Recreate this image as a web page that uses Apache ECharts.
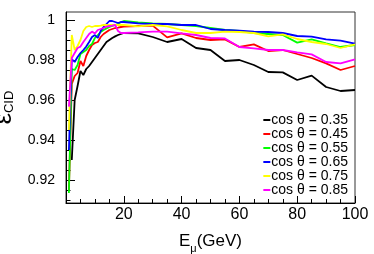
<!DOCTYPE html>
<html><head><meta charset="utf-8">
<script src="https://cdn.jsdelivr.net/npm/echarts@6/dist/echarts.min.js"></script>
<style>html,body{margin:0;padding:0;background:#fff}#c{width:374px;height:254px}</style>
</head><body><div id="c"></div>
<script>
// Muon energy (GeV)
const energies = [1,2,3,4,5,6,7,8,9,10,11,12,13,14,15,16,17,18,19,20,
  25,30,35,40,45,50,55,60,65,70,75,80,85,90,95,100];
const eff035 = [null,0.930,0.960,0.967,0.9745,0.9725,0.9755,0.977,0.979,0.981,0.983,0.985,0.987,0.989,0.990,0.991,0.9918,0.9925,0.993,0.9935,
  0.9933,0.9915,0.989,0.9905,0.9860,0.985,0.9795,0.980,0.9775,0.974,0.9738,0.970,0.9722,0.9665,0.9645,0.965];
const eff045 = [0.915,0.968,0.972,0.9735,0.9795,0.977,0.982,0.985,0.9875,0.9885,0.989,0.9915,0.993,0.994,0.995,0.9955,0.996,0.9962,0.9965,0.9967,
  0.997,0.9972,0.9913,0.9933,0.991,0.990,0.9903,0.9865,0.9878,0.9845,0.985,0.9830,0.981,0.9783,0.975,0.9770];
const eff055 = [0.9135,0.9755,0.975,0.9775,0.983,0.984,0.985,0.987,0.988,0.991,0.9925,0.994,0.995,0.9958,0.9965,0.997,0.9975,0.998,0.999,0.9995,
  0.9988,0.9983,0.998,0.9975,0.997,0.996,0.995,0.9945,0.9935,0.993,0.9925,0.9887,0.9903,0.9883,0.9865,0.9875];
const eff065 = [0.935,0.9805,0.979,0.9815,0.9835,0.985,0.9867,0.989,0.9915,0.9925,0.991,0.9945,0.9965,0.998,0.9995,0.9995,0.999,0.9985,0.999,0.999,
  0.9983,0.998,0.998,0.9975,0.9975,0.9955,0.995,0.9947,0.9942,0.994,0.9935,0.992,0.9917,0.9903,0.9897,0.9882];
const eff075 = [0.945,0.9925,0.985,0.987,0.990,0.9945,0.9965,0.997,0.9965,0.997,0.997,0.9972,0.9975,0.9975,0.9975,0.9975,0.9975,0.9975,0.9975,0.9975,
  0.9968,0.9975,0.9968,0.995,0.9935,0.9935,0.9942,0.994,0.9935,0.9918,0.9928,0.9905,0.989,0.988,0.986,0.9878];
const eff085 = [0.9567,0.981,0.9835,0.986,0.9867,0.989,0.991,0.993,0.9942,0.9933,0.995,0.9955,0.996,0.9967,0.997,0.9972,0.9975,0.9945,0.9935,0.9935,
  0.9938,0.9942,0.9942,0.9933,0.9925,0.991,0.9908,0.9865,0.9858,0.985,0.985,0.9838,0.9828,0.979,0.9783,0.9803];
const seriesNames = ['cos θ = 0.35','cos θ = 0.45','cos θ = 0.55','cos θ = 0.65','cos θ = 0.75','cos θ = 0.85'];
const seriesValues = [eff035, eff045, eff055, eff065, eff075, eff085];
const seriesColors = ['#000000','#ff0000','#00ff00','#0000ff','#ffff00','#ff00ff'];
const yTickLabels = [0.92,0.94,0.96,0.98,1];
const yMinorTicks = [0.91,0.915,0.925,0.93,0.935,0.945,0.95,0.955,0.965,0.97,0.975,0.985,0.99,0.995];

const FONT = 'Liberation Sans, Arial, Helvetica, sans-serif';
const chart = echarts.init(document.getElementById('c'), null, {renderer:'canvas'});
chart.setOption({
  animation: false,
  backgroundColor: '#fff',
  textStyle: {fontFamily: FONT},
  grid: {left: 66, right: 19, top: 12, bottom: 51, show: true, borderColor: '#333', borderWidth: 1,
    containLabel: false, outerBoundsMode: 'none'},
  legend: {
    data: seriesNames, orient: 'vertical', right: 26, top: 113, padding: 0,
    itemGap: 0, itemWidth: 7, itemHeight: 2, icon: 'rect',
    textStyle: {fontSize: 14, lineHeight: 12.3, color: '#000', fontFamily: FONT, padding: [0,0,0,-4]}
  },
  xAxis: {
    type: 'value', min: 0, max: 100, interval: 20,
    name: '{n|E}{s|μ}{n|(GeV)}', nameLocation: 'middle', nameGap: 27,
    nameTextStyle: {rich: {
      n: {fontSize: 17, fontFamily: FONT, color: '#000', verticalAlign: 'bottom', lineHeight: 20},
      s: {fontSize: 11, fontFamily: FONT, color: '#000', verticalAlign: 'bottom', lineHeight: 14, padding: [0,0,-4,0]}
    }},
    axisLine: {lineStyle: {color: '#000', width: 1}},
    axisTick: {inside: true, length: 7, lineStyle: {color: '#000'}},
    minorTick: {show: true, splitNumber: 4, length: 4, lineStyle: {color: '#000'}},
    axisLabel: {fontSize: 16, color: '#000', margin: 4, fontFamily: FONT, showMinLabel: false,
      formatter: v => (v === 0 ? '' : String(v))},
    splitLine: {show: false}
  },
  yAxis: [{
    type: 'value', min: 0.9085, max: 1.004,
    name: '{e|ε}{s|CID}', nameLocation: 'middle', nameRotate: 90, nameGap: 26,
    nameTextStyle: {verticalAlign: 'bottom', rich: {
      e: {fontSize: 25, fontFamily: FONT, color: '#000', lineHeight: 26},
      s: {fontSize: 13, fontFamily: FONT, color: '#000', lineHeight: 16, padding: [10,0,0,0]}
    }},
    axisLine: {show: true, lineStyle: {color: '#000', width: 1}},
    axisTick: {show: true, inside: true, length: 9, customValues: yTickLabels, lineStyle: {color: '#000'}},
    axisLabel: {fontSize: 14, color: '#000', margin: 11, fontFamily: FONT, customValues: yTickLabels,
      formatter: v => String(Math.round(v*100)/100)},
    splitLine: {show: false}
  }, {
    type: 'value', min: 0.9085, max: 1.004, position: 'left', offset: 0,
    axisLine: {show: false},
    axisTick: {show: true, inside: true, length: 4.5, customValues: yMinorTicks, lineStyle: {color: '#000'}},
    axisLabel: {show: false},
    splitLine: {show: false}
  }],
  series: seriesNames.map((name, k) => ({
    name, type: 'line', yAxisIndex: 0, symbol: 'none', showSymbol: false,
    color: seriesColors[k],
    lineStyle: {width: 1.8, color: seriesColors[k]},
    data: energies.map((e, i) => [e, seriesValues[k][i]]),
    connectNulls: false
  }))
});
</script></body></html>
